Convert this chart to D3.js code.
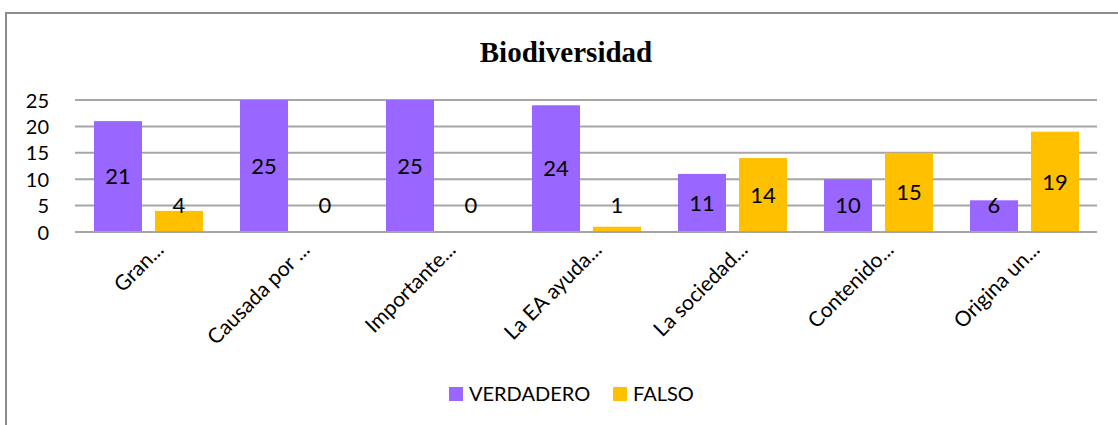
<!DOCTYPE html>
<html>
<head>
<meta charset="utf-8">
<script src="https://cdn.jsdelivr.net/npm/d3@7"></script>
<style>
  body { margin: 0; background: #fff; }
  svg { display: block; }
</style>
</head>
<body>
<svg id="chart"></svg>
<script>
// data
const categories = ["Gran...", "Causada por ...", "Importante...", "La EA ayuda...", "La sociedad...", "Contenido...", "Origina un..."];
const verdadero = [21, 25, 25, 24, 11, 10, 6];
const falso = [4, 0, 0, 1, 14, 15, 19];
const seriesNames = ["VERDADERO", "FALSO"];
const yTicks = [0, 5, 10, 15, 20, 25];

const width = 1118, height = 425;
const margin = {top: 100, right: 21, bottom: 193, left: 75};
const colors = ["#9966FF", "#FFC000"];
const labelFont = "Lato, 'Open Sans', sans-serif";

const svg = d3.select("#chart")
    .attr("width", width)
    .attr("height", height);

// outer frame (runs off the right and bottom edge)
svg.append("rect")
    .attr("x", 6).attr("y", 13)
    .attr("width", 1200).attr("height", 500)
    .attr("fill", "none")
    .attr("stroke", "#8c8c8c")
    .attr("stroke-width", 2);

svg.append("text")
    .text("Biodiversidad")
    .attr("x", 566)
    .attr("y", 62)
    .attr("text-anchor", "middle")
    .attr("font-family", "'Liberation Serif', 'Times New Roman', serif")
    .attr("font-weight", "bold")
    .attr("font-size", "29px")
    .attr("fill", "#000");

const innerW = width - margin.left - margin.right;
const innerH = height - margin.top - margin.bottom;

const chart = svg.append("g")
    .attr("transform", `translate(${margin.left}, ${margin.top})`);

const x0 = d3.scaleBand()
    .domain(categories)
    .range([0, innerW])
    .paddingInner(0)
    .paddingOuter(0);

const x1 = d3.scaleBand()
    .domain(seriesNames)
    .range([19, 128])
    .paddingInner(0.213);

const y = d3.scaleLinear()
    .domain([0, 25])
    .range([innerH, 0]);

// gridlines
chart.append("g")
    .selectAll("line")
    .data(yTicks)
    .join("line")
    .attr("x1", 0)
    .attr("x2", innerW)
    .attr("y1", d => y(d))
    .attr("y2", d => y(d))
    .attr("stroke", "#a6a6a6")
    .attr("stroke-width", 2);

// y axis labels
const yaxis = d3.axisLeft(y).tickValues(yTicks).tickSize(0).tickPadding(0);
const yaxis_group = chart.append("g")
    .attr("transform", "translate(-26, 0)")
    .call(yaxis);
yaxis_group.select(".domain").remove();
yaxis_group.selectAll("text")
    .attr("font-family", labelFont)
    .attr("font-size", "20px")
    .attr("fill", "#000")
    .attr("dy", "0.35em");

const rows = categories.map((c, i) => ({cat: c, values: [verdadero[i], falso[i]]}));

const groups = chart.selectAll(".grp")
    .data(rows)
    .join("g")
    .attr("class", "grp")
    .attr("transform", d => `translate(${x0(d.cat)}, 0)`);

groups.selectAll("rect")
    .data(d => d.values.map((v, j) => ({name: seriesNames[j], value: v, j: j})))
    .join("rect")
    .attr("x", d => x1(d.name))
    .attr("width", x1.bandwidth())
    .attr("y", d => y(d.value))
    .attr("height", d => innerH - y(d.value))
    .attr("fill", d => colors[d.j]);

groups.selectAll(".val")
    .data(d => d.values.map((v, j) => ({name: seriesNames[j], value: v})))
    .join("text")
    .attr("class", "val")
    .text(d => d.value)
    .attr("x", d => x1(d.name) + x1.bandwidth() / 2)
    .attr("y", d => Math.min((y(d.value) + innerH) / 2, y(5)))
    .attr("dy", "0.35em")
    .attr("text-anchor", "middle")
    .attr("font-family", labelFont)
    .attr("font-size", "22px")
    .attr("fill", "#000");

// baseline over the bars
chart.append("line")
    .attr("x1", 0).attr("x2", innerW)
    .attr("y1", innerH).attr("y2", innerH)
    .attr("stroke", "#a6a6a6")
    .attr("stroke-width", 2);

// rotated category labels
chart.append("g")
    .selectAll("text")
    .data(categories)
    .join("text")
    .text(d => d)
    .attr("text-anchor", "end")
    .attr("transform", d => `translate(${x0(d) + x0.bandwidth() / 2 + 17}, ${innerH + 19}) rotate(-45)`)
    .attr("font-family", labelFont)
    .attr("font-size", "21px")
    .attr("fill", "#000");

// legend
const legend = svg.append("g").attr("transform", "translate(449, 387)");
const legendX = [0, 164];
seriesNames.forEach((name, i) => {
    legend.append("rect")
        .attr("x", legendX[i]).attr("y", 0)
        .attr("width", 14).attr("height", 14)
        .attr("fill", colors[i]);
    legend.append("text")
        .text(name)
        .attr("x", legendX[i] + 20)
        .attr("y", 7)
        .attr("dy", "0.35em")
        .attr("font-family", labelFont)
        .attr("font-size", "20px")
        .attr("fill", "#000");
});
</script>
</body>
</html>
